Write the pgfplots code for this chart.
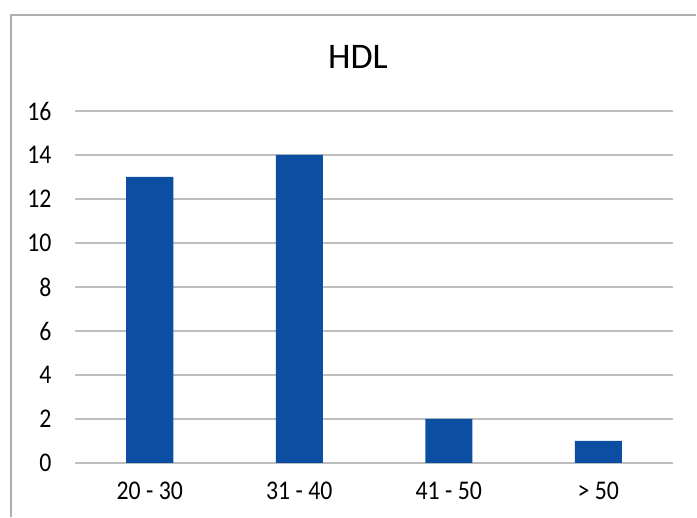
\documentclass[border=0pt]{standalone}
\usepackage{pgfplots}
\pgfplotsset{compat=1.18}
\usepackage{fontspec}
\setmainfont{Carlito}
\newfontfamily\tickfont[FakeStretch=0.88]{Carlito}
\definecolor{barblue}{RGB}{11,78,162}
\definecolor{gridgray}{RGB}{190,190,190}
\definecolor{framegray}{RGB}{170,175,180}
\begin{document}
\begin{tikzpicture}[x=1pt,y=1pt]
\useasboundingbox (0,0) rectangle (697,518);
\draw[framegray, line width=1.2pt] (11,1) -- (11,503) -- (696,503);
\node[font=\fontsize{36}{40}\selectfont] at (358,461) {HDL};
\begin{axis}[
  at={(75pt,55pt)}, anchor=south west,
  scale only axis, width=598pt, height=352pt,
  xmin=-0.5, xmax=3.5, ymin=0, ymax=16,
  xtick={0,1,2,3},
  xticklabels={20 - 30, 31 - 40, 41 - 50, > 50},
  ytick={0,2,...,16},
  ymajorgrids, grid style={gridgray, line width=1.1pt},
  axis x line*=bottom, axis y line*=left,
  y axis line style={draw=none},
  x axis line style={gridgray, line width=1.1pt, -},
  major tick length=0pt,
  tick label style={font=\tickfont\fontsize{27}{30}\selectfont},
  /pgf/number format/assume math mode=true,
  xticklabel style={yshift=-15pt},
  yticklabel style={xshift=-20pt},
  ybar, bar width=47pt,
]
\addplot[fill=barblue, draw=none] coordinates {(0,13) (1,14) (2,2) (3,1)};
\end{axis}
\end{tikzpicture}
\end{document}
